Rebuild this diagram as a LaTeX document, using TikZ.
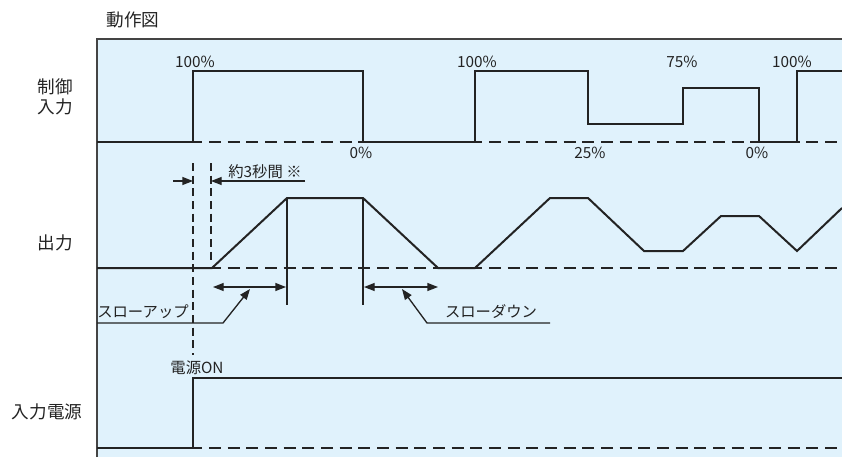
\documentclass[tikz,border=0pt]{standalone}
\usepackage{fontspec}
\setmainfont{Noto Sans CJK JP}
\usetikzlibrary{arrows.meta}

\definecolor{panelblue}{RGB}{224,242,252}
\definecolor{ink}{RGB}{35,35,35}

\tikzset{
  sig/.style={line width=1.5pt, draw=ink, line join=miter},
  zero/.style={line width=1pt, draw=ink, dash pattern=on 9pt off 5pt},
  guide/.style={line width=0.9pt, draw=ink, dash pattern=on 6pt off 3.5pt},
  thin/.style={line width=1pt, draw=ink},
  lbl/.style={font=\fontsize{11.5}{13}\selectfont, text=ink, inner sep=0pt},
  rowlbl/.style={font=\fontsize{13.2}{15.5}\selectfont, text=ink, align=center, inner sep=0pt},
  tip/.style={-{Triangle[length=8pt,width=6pt]}},
  both/.style={{Triangle[length=8pt,width=6pt]}-{Triangle[length=8pt,width=6pt]}}
}

\begin{document}
\begin{tikzpicture}[x=0.75pt, y=-0.75pt]
    \useasboundingbox (0,0) rectangle (842,457);

    % Panel
    \fill[panelblue] (97,39) rectangle (842,457);
    \draw[line width=1.5pt, draw=ink!85] (97,457) -- (97,39) -- (842,39);
    \node[rowlbl] (title) at (133,20) {動作図};

    % Row labels
    \node[rowlbl] (ctrl) at (55,97) {制御\\入力};
    \node[rowlbl] (out) at (55,243) {出力};
    \node[rowlbl] (pwr) at (47,412) {入力電源};

    % Zero lines
    \draw[zero] (97,142) -- (842,142);
    \draw[zero] (97,268) -- (842,268);
    \draw[zero] (97,448) -- (842,448);

    % Control input
    \draw[sig] (97,142) -- (193,142) -- (193,71) -- (363,71) -- (363,142)
        -- (475,142) -- (475,71) -- (588,71) -- (588,124) -- (683,124)
        -- (683,88) -- (759,88) -- (759,142) -- (797,142) -- (797,71) -- (842,71);
    \node[lbl] (p1) at (195,62) {100\%};
    \node[lbl] (z1) at (361,153) {0\%};
    \node[lbl] (p2) at (477,62) {100\%};
    \node[lbl] (q1) at (590,153) {25\%};
    \node[lbl] (q3) at (682,62) {75\%};
    \node[lbl] (z2) at (757,153) {0\%};
    \node[lbl] (p3) at (792,62) {100\%};

    % Output
    \draw[sig] (97,268) -- (212,268) -- (287,198) -- (363,198) -- (438,268)
        -- (475,268) -- (550,198) -- (588,198) -- (644,251) -- (683,251)
        -- (721,216) -- (759,216) -- (797,251) -- (842,208);
    \draw[sig] (287,198) -- (287,305);
    \draw[sig] (363,198) -- (363,305);

    % Delay of about 3 s
    \draw[guide] (193,163) -- (193,355);
    \draw[guide] (211,163) -- (211,262);
    \coordinate (d0) at (173,181);
    \coordinate (d1) at (193,181);
    \coordinate (d2) at (211,181);
    \coordinate (d3) at (305,181);
    \draw[thin, tip] (d0) -- (d1);
    \draw[thin, tip] (d3) -- (d2);
    \node[lbl] (delay) at (265,172) {約3秒間 ※};

    % Slow up / slow down
    \coordinate (u0) at (213,287);
    \coordinate (u1) at (286,287);
    \coordinate (w0) at (364,287);
    \coordinate (w1) at (438,287);
    \draw[thin, both] (u0) -- (u1);
    \draw[thin, both] (w0) -- (w1);
    \node[lbl] (up) at (143,312) {スローアップ};
    \node[lbl] (down) at (491,312) {スローダウン};
    \draw[thin, tip] (97,323) -- (223,323) -- (250,289);
    \draw[thin, tip] (550,323) -- (427,323) -- (402,289);

    % Input power
    \draw[sig] (97,448) -- (193,448) -- (193,378) -- (842,378);
    \node[lbl] (on) at (197,368) {電源ON};
\end{tikzpicture}
\end{document}
